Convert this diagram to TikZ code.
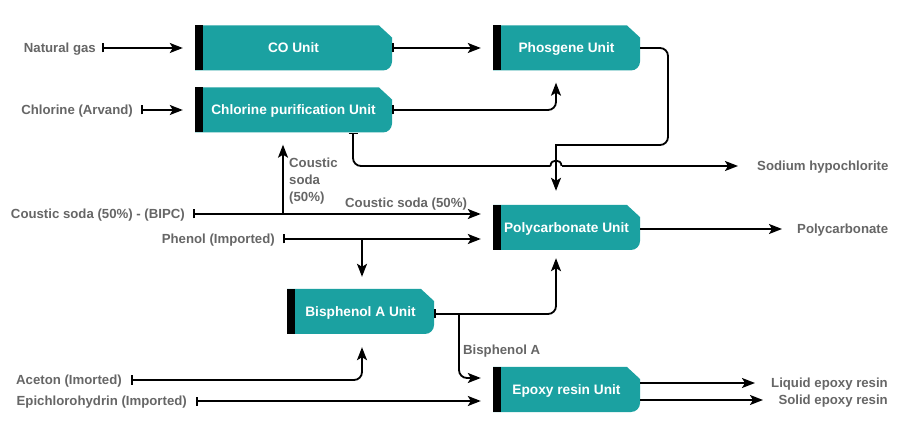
\documentclass[tikz,border=0pt]{standalone}
\usepackage{fontspec}
\setmainfont{Liberation Sans}
\usetikzlibrary{arrows.meta,calc}
\definecolor{unitteal}{HTML}{1BA1A1}
\definecolor{labelgray}{HTML}{666666}
\begin{document}
\begin{tikzpicture}[x=1pt,y=-1pt,
  unitbox/.style={minimum width=#1, minimum height=45pt, inner sep=0pt, text=white,
    font=\fontsize{13.7}{16}\selectfont\bfseries, text height=9.8pt, text depth=0pt,
    path picture={
      \fill[unitteal] (path picture bounding box.south west)
        -- (path picture bounding box.north west)
        -- ([xshift=-13pt]path picture bounding box.north east)
        -- ([yshift=-12pt]path picture bounding box.north east)
        -- ([yshift=9pt]path picture bounding box.south east)
        arc[start angle=0,end angle=-90,radius=9pt] -- cycle;
      \fill[black] (path picture bounding box.south west) rectangle ([xshift=8pt]path picture bounding box.north west);
    }},
  lbl/.style={text=labelgray, font=\fontsize{13.2}{17}\selectfont\bfseries, inner sep=0pt, text height=9.4pt, text depth=0pt},
  lblml/.style={text=labelgray, font=\fontsize{13.2}{17}\selectfont\bfseries, inner sep=0pt, align=left},
  conn/.style={draw=black, line width=1.8pt},
  arr/.style={conn, -{Stealth[length=13pt,width=10pt,inset=3pt]}},
  flow/.style={conn, {Bar[width=9pt,line width=1.6pt]}-{Stealth[length=13pt,width=10pt,inset=3pt]}},
  bararr/.style={conn, {Bar[width=9pt,line width=1.6pt]}-}
]
\fill[white] (0,0) rectangle (910,435);
\useasboundingbox (0,0) rectangle (910,435);

% units
\node[unitbox=197pt] (co) at (293.5,48) {CO Unit};
\node[unitbox=197pt] (cl) at (293.5,110) {Chlorine purification Unit};
\node[unitbox=147pt] (ph) at (566.5,48) {Phosgene Unit};
\node[unitbox=147pt] (pc) at (566.5,227.5) {Polycarbonate Unit};
\node[unitbox=147pt] (bp) at (360.5,311.5) {Bisphenol A Unit};
\node[unitbox=147pt] (ep) at (566.5,389.5) {Epoxy resin Unit};

% labels
\node[lbl, anchor=east] (ng) at (96,48) {Natural gas};
\node[lbl, anchor=east] (ca) at (133,110) {Chlorine (Arvand)};
\node[lbl, anchor=east] (cs) at (185,214) {Coustic soda (50\%) - (BIPC)};
\node[lbl, anchor=east] (phe) at (275,239) {Phenol (Imported)};
\node[lbl, anchor=east] (ac) at (122,380) {Aceton (Imorted)};
\node[lbl, anchor=east] (epi) at (187,401) {Epichlorohydrin (Imported)};
\node[lbl, anchor=west] (sh) at (757,166) {Sodium hypochlorite};
\node[lbl, anchor=west] (pco) at (797,229) {Polycarbonate};
\node[lbl, anchor=east] (liq) at (888,383) {Liquid epoxy resin};
\node[lbl, anchor=east] (sol) at (888,400) {Solid epoxy resin};
\node[lbl, anchor=west] (csl) at (345,203) {Coustic soda (50\%)};
\node[lblml, anchor=north west] (csv) at (289,158) {Coustic\\soda\\(50\%)};
\node[lbl, anchor=west] (bpl) at (463,350) {Bisphenol A};

% helper coordinates
\coordinate (phturn) at (668,145);
\coordinate (pcin) at ($(pc.north)+(-10.5pt,0)$);
\coordinate (clb) at ($(cl.south)+(59.5pt,0)$);
\coordinate (jl) at (550.5,166);
\coordinate (jr) at (561.5,166);
\coordinate (csb) at (283,214);
\coordinate (pheb) at (362,239);
\coordinate (bpb) at (459,314);

% connectors
\draw[flow] ([xshift=6pt]ng.east) -- ([xshift=-12pt]co.west);
\draw[flow] (co.east) -- ([xshift=-12pt]ph.west);
\draw[flow] ([xshift=8pt]ca.east) -- ([xshift=-12pt]cl.west);
\draw[flow, rounded corners=8pt] (cl.east) -| ([xshift=-10.5pt,yshift=-12pt]ph.south);
\draw[arr, rounded corners=8pt] (ph.east) -| (phturn) [sharp corners] -- (pcin |- phturn) -- ([yshift=14pt]pcin);
\draw[bararr, rounded corners=8pt] (clb) |- (jl);
\draw[conn] (jl) .. controls ($(jl)+(0,7.3pt)$) and ($(jr)+(0,7.3pt)$) .. (jr);
\draw[arr] (jr) -- ([xshift=-19pt]sh.west);
\draw[flow] ([xshift=8pt]cs.east) -- ([xshift=-12pt,yshift=13.5pt]pc.west);
\draw[arr] (csb) -- ([xshift=-10.5pt,yshift=-12pt]cl.south);
\draw[flow] ([xshift=8pt]phe.east) -- ([xshift=-12pt,yshift=-11.5pt]pc.west);
\draw[arr] (pheb) -- ([xshift=1.5pt,yshift=12pt]bp.north);
\draw[flow, rounded corners=8pt] ([yshift=-2.5pt]bp.east) -| ([xshift=-10.5pt,yshift=-8pt]pc.south);
\draw[arr, rounded corners=8pt] (bpb) |- ([xshift=-12pt,yshift=11.5pt]ep.west);
\draw[flow, rounded corners=8pt] ([xshift=9pt]ac.east) -| ([xshift=1.5pt,yshift=-13pt]bp.south);
\draw[flow] ([xshift=9pt]epi.east) -- ([xshift=-12pt,yshift=-11.5pt]ep.west);
\draw[arr] ([yshift=-1.5pt]pc.east) -- ([xshift=-15pt]pco.west);
\draw[arr] ([yshift=6.5pt]ep.east) -- ([xshift=-133pt]liq.east);
\draw[arr] ([yshift=-10.5pt]ep.east) -- ([xshift=-125pt]sol.east);
\end{tikzpicture}
\end{document}
